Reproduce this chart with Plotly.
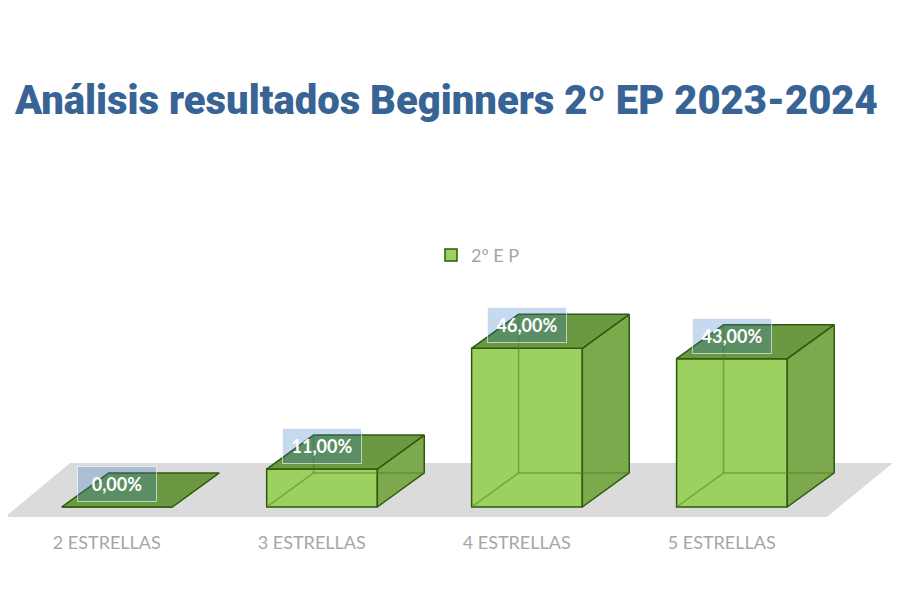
import plotly.graph_objects as go

# Chart data
categories = ["2 ESTRELLAS", "3 ESTRELLAS", "4 ESTRELLAS", "5 ESTRELLAS"]
values = [0, 11, 46, 43]
series_name = "2º E P"
title = "Análisis resultados Beginners 2º EP 2023-2024"

# Pseudo-3D geometry (in axis units)
bar_w = 0.54          # front face width
depth_x = 0.229       # oblique depth offset along x
depth_y = 9.86        # oblique depth offset along y

front_col = '#9dd15f'
side_col = '#7ca94b'
top_col = '#6c9841'
edge_col = '#2d5a10'
hidden_col = 'rgba(70,130,25,0.55)'

xs = list(range(len(categories)))

fig = go.Figure()

# front faces
fig.add_trace(go.Bar(
    x=xs, y=values, width=bar_w, name=series_name,
    marker=dict(color=front_col, line=dict(color=edge_col, width=1.5)),
    showlegend=True, hoverinfo='skip'
))

for i, v in zip(xs, values):
    xl, xr = i - bar_w / 2, i + bar_w / 2
    # side face
    if v > 0:
        fig.add_trace(go.Scatter(
            x=[xr, xr + depth_x, xr + depth_x, xr, xr],
            y=[0, depth_y, v + depth_y, v, 0],
            fill='toself', fillcolor=side_col, mode='lines',
            line=dict(color=edge_col, width=1.5), showlegend=False, hoverinfo='skip'
        ))
    # top face
    fig.add_trace(go.Scatter(
        x=[xl, xr, xr + depth_x, xl + depth_x, xl],
        y=[v, v, v + depth_y, v + depth_y, v],
        fill='toself', fillcolor=top_col, mode='lines',
        line=dict(color=edge_col, width=1.5), showlegend=False, hoverinfo='skip'
    ))
    # hidden edges seen through the translucent box
    if v > 0:
        fig.add_trace(go.Scatter(
            x=[xl, xl + depth_x, xr + depth_x, None, xl + depth_x, xl + depth_x],
            y=[0, depth_y, depth_y, None, depth_y, v + depth_y],
            mode='lines', line=dict(color=hidden_col, width=1.5),
            showlegend=False, hoverinfo='skip'
        ))
    # data label
    fig.add_annotation(
        x=i, y=v + 6.7, text="<b>" + f"{v:.2f}".replace('.', ',') + "%</b>",
        showarrow=False, font=dict(family="Lato", size=18, color='white'),
        bgcolor='rgba(47,115,196,0.27)', bordercolor='rgba(255,255,255,0.6)',
        borderwidth=1, width=76, height=32
    )

# category labels
fig.add_trace(go.Scatter(
    x=[i - 0.05 for i in xs], y=[-11] * len(xs), text=categories,
    mode='text', textfont=dict(family="Lato", size=18, color='#a6a6a6'),
    showlegend=False, hoverinfo='skip'
))

# floor
fig.add_shape(
    type='path', layer='below', line=dict(width=0), fillcolor='#dcdbdb',
    path="M -0.546,-2.9 L -0.229,12.75 L 3.785,12.75 L 3.463,-2.9 Z"
)

fig.update_layout(
    width=900, height=600,
    margin=dict(l=0, r=0, t=0, b=0),
    paper_bgcolor='white', plot_bgcolor='white',
    title=dict(text=title, x=0.487, xanchor='center', y=0.847, yanchor='middle',
               font=dict(family="Roboto", size=40, weight=900, color='#386395')),
    xaxis=dict(range=[-0.532, 3.859], visible=False, fixedrange=True),
    yaxis=dict(range=[-29.28, 144.64], visible=False, fixedrange=True),
    legend=dict(x=0.47, y=0.588, xanchor='left', yanchor='middle',
                font=dict(family="Lato", size=18, color='#a6a6a6'),
                bgcolor='rgba(0,0,0,0)'),
    showlegend=True
)

fig.write_html("out.html")
